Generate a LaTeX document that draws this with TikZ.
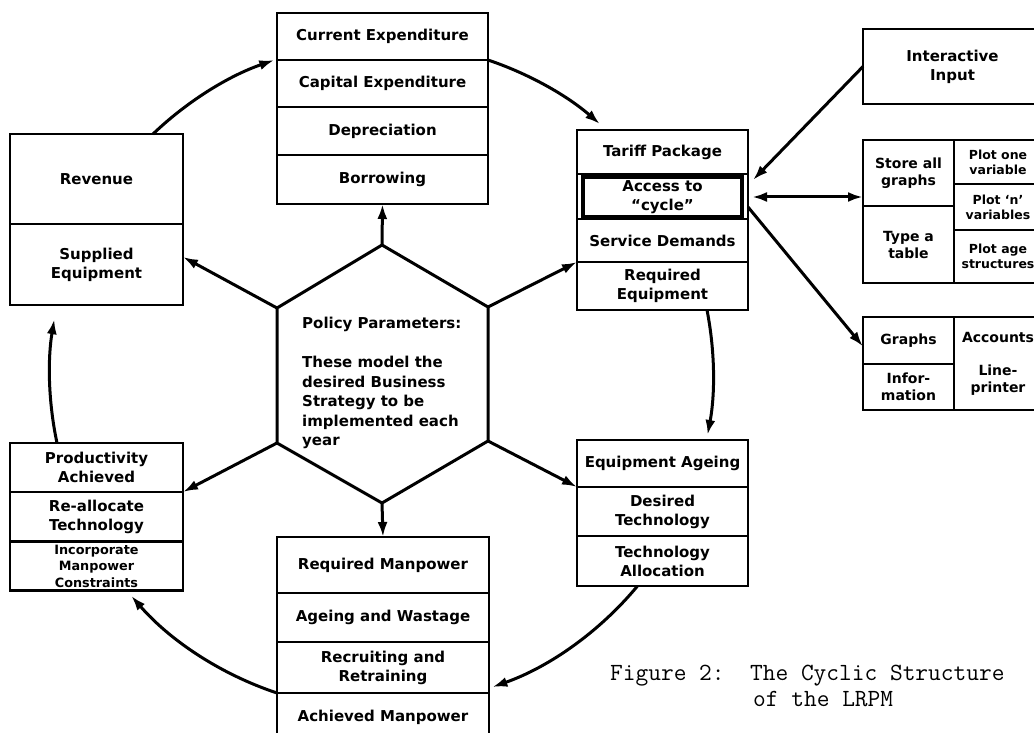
\documentclass[tikz,border=0pt]{standalone}
\usepackage{fontspec}
\setmainfont{DejaVu Sans}
\usetikzlibrary{arrows.meta}
\newcommand\labM{\fontsize{15}{19}\selectfont\bfseries}
\newcommand\labS{\fontsize{14}{17}\selectfont\bfseries}
\newcommand\labT{\fontsize{12.5}{15}\selectfont\bfseries}
\newcommand\labI{\fontsize{12.8}{16.5}\selectfont\bfseries}
\newcommand\capfont{\fontsize{24.7}{26}\selectfont\ttfamily}
\begin{document}
\begin{tikzpicture}[x=1pt,y=-1pt,
  cell/.style={draw, line width=2.8pt, inner sep=0pt, outer sep=0pt, align=center, font=\labM},
  arr/.style={line width=3pt, -{Latex[length=15pt,width=10pt]}},
  darr/.style={line width=3pt, {Latex[length=15pt,width=10pt]}-{Latex[length=15pt,width=10pt]}},
  hexline/.style={line width=3pt, line join=miter},
  capt/.style={font=\capfont, inner sep=0pt, anchor=base west}]
\useasboundingbox[fill=white] (0,0) rectangle (1034,733);

% ---------- top box ----------
\node[cell, minimum width=211, minimum height=47] (ce)  at (382.5,36.5) {Current Expenditure};
\node[cell, minimum width=211, minimum height=47] (cx)  at (382.5,83.5) {Capital Expenditure};
\node[cell, minimum width=211, minimum height=48] (dep) at (382.5,131)  {Depreciation};
\node[cell, minimum width=211, minimum height=49] (bor) at (382.5,179.5) {Borrowing};

% ---------- tariff box ----------
\node[cell, minimum width=171, minimum height=44] (tp) at (662.5,152) {Tariff Package};
\node[cell, minimum width=171, minimum height=43] (sd) at (662.5,240.5) {Service Demands};
\node[cell, minimum width=171, minimum height=48] (re) at (662.5,286) {Required\\Equipment};
\draw[line width=2.8pt] (tp.north west) rectangle (re.south east);
\node[cell, line width=4.2pt, minimum width=159, minimum height=41] (acc) at (662.5,197) {Access to\\“cycle”};

% ---------- equipment box ----------
\node[cell, minimum width=171, minimum height=47] (ea) at (662.5,463.5) {Equipment Ageing};
\node[cell, minimum width=171, minimum height=49] (dt) at (662.5,511.5) {Desired\\Technology};
\node[cell, minimum width=171, minimum height=50] (ta) at (662.5,561) {Technology\\Allocation};

% ---------- bottom box ----------
\node[cell, minimum width=212, minimum height=56] (rm) at (383,565) {Required Manpower};
\node[cell, minimum width=212, minimum height=49] (aw) at (383,617.5) {Ageing and Wastage};
\node[cell, minimum width=212, minimum height=51] (rr) at (383,667.5) {Recruiting and\\Retraining};
\node[cell, minimum width=212, minimum height=52] (am) at (383,719) {\raisebox{6pt}{Achieved Manpower}};

% ---------- revenue box ----------
\node[cell, minimum width=173, minimum height=90] (rev) at (96.5,179) {Revenue};
\node[cell, minimum width=173, minimum height=81] (se)  at (96.5,264.5) {Supplied\\Equipment};

% ---------- productivity box ----------
\node[cell, minimum width=173, minimum height=49] (pa)  at (96.5,467.5) {Productivity\\Achieved};
\node[cell, minimum width=173, minimum height=49] (rt)  at (96.5,516.5) {Re-allocate\\Technology};
\node[cell, minimum width=173, minimum height=49, font=\labI] (imc) at (96.5,566) {Incorporate\\Manpower\\Constraints};

% ---------- right boxes ----------
\node[cell, minimum width=179, minimum height=75] (ii) at (952.5,66.5) {Interactive\\Input};

\node[cell, font=\labS, minimum width=91, minimum height=66] (sag) at (908.5,173)   {Store all\\graphs};
\node[cell, font=\labS, minimum width=91, minimum height=77] (tat) at (908.5,244.5) {Type a\\table};
\node[cell, font=\labT, minimum width=88, minimum height=44] (p1)  at (998,162)     {Plot one\\variable};
\node[cell, font=\labT, minimum width=88, minimum height=46] (pn)  at (998,207)     {Plot ‘n’\\variables};
\node[cell, font=\labT, minimum width=88, minimum height=53] (pg)  at (998,256.5)   {Plot age\\structures};

\node[cell, font=\labS, minimum width=91, minimum height=47] (gr)   at (908.5,340.5) {Graphs};
\node[cell, font=\labS, minimum width=91, minimum height=46] (inf)  at (908.5,387)   {Infor-\\mation};
\node[cell, font=\labS, minimum width=88, minimum height=93] (acct) at (998,363.5)   {Accounts\\[16pt]Line-\\printer};

% ---------- hexagon ----------
\coordinate (hT)  at (382,245);
\coordinate (hUR) at (488,307);
\coordinate (hLR) at (488,441);
\coordinate (hB)  at (382,503);
\coordinate (hLL) at (277,443);
\coordinate (hUL) at (277,308);
\draw[hexline] (hT) -- (hUR) -- (hLR) -- (hB) -- (hLL) -- (hUL) -- cycle;
\node[font=\fontsize{15}{19.5}\selectfont\bfseries, align=left, anchor=north west, inner sep=0pt] (pol) at (302,317)
  {Policy Parameters:\\[19.5pt]These model the\\desired Business\\Strategy to be\\implemented each\\year};

% ---------- radial arrows ----------
\draw[arr] (hT)  -- (bor.south);
\draw[arr] (hUL) -- (se.5);
\draw[arr] (hUR) -- (re.north west);
\draw[arr] (hLL) -- (pa.south east);
\draw[arr] (hLR) -- (dt.north west);
\draw[arr] (hB)  -- (rm.north);

% ---------- cycle arcs ----------
\draw[arr] (153,0 |- rev.north) arc[start angle=-133.7, end angle=-109, radius=332];
\draw[arr] (ce.south east) arc[start angle=-71.4, end angle=-49, radius=332];
\draw[arr] (707,0 |- re.south) arc[start angle=-11.1, end angle=10.6, radius=332];
\draw[arr] (637.5,0 |- ta.south) arc[start angle=39.7, end angle=70.6, radius=332];
\draw[arr] (am.north west) arc[start angle=108.4, end angle=139, radius=332];
\draw[arr] (57,0 |- pa.north) arc[start angle=168, end angle=189.5, radius=332];

% ---------- right-side arrows ----------
\draw[arr] (ii.west) -- ([xshift=5pt,yshift=-6pt]tp.south east);
\draw[darr] ([xshift=10pt]acc.east) -- (acc.east -| sag.west);
\draw[arr] ([yshift=12pt]sd.north east) -- ([yshift=-6pt]gr.west);

% ---------- caption ----------
\node[capt] (cap1) at (610,680) {Figure~2:~~The Cyclic Structure};
\node[capt] (cap2) at (753,706) {of the LRPM};
\end{tikzpicture}
\end{document}
